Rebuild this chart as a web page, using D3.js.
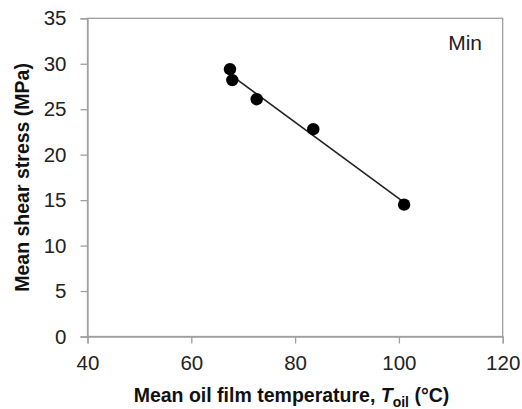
<!DOCTYPE html>
<html>
<head>
<meta charset="utf-8">
<script src="https://cdn.jsdelivr.net/npm/d3@7"></script>
<style>
  html, body { margin: 0; padding: 0; background: #fff; }
  svg { display: block; font-family: "Liberation Sans", Arial, sans-serif; }
</style>
</head>
<body>
<svg id="chart" width="522" height="409"></svg>
<script>
// Mean oil film temperature (°C) and mean shear stress (MPa) at the "Min" condition
const temperature = [67.45, 67.9, 72.6, 83.5, 101.0];
const shearStress = [29.4, 28.2, 26.1, 22.8, 14.5];
const xTicks = [40, 60, 80, 100, 120];
const yTicks = [0, 5, 10, 15, 20, 25, 30, 35];

const svg = d3.select("#chart");
const plotLeft = 87.5, plotRight = 502.7, plotTop = 18.3, plotBottom = 336.5;

const x = d3.scaleLinear().domain([40, 120]).range([plotLeft, plotRight]);
const y = d3.scaleLinear().domain([0, 35]).range([plotBottom, plotTop]);

const axisColor = "#a0a0a0";

// plot frame
svg.append("rect")
  .attr("x", plotLeft).attr("y", plotTop)
  .attr("width", plotRight - plotLeft).attr("height", plotBottom - plotTop)
  .attr("fill", "none").attr("stroke", axisColor).attr("stroke-width", 1.3);

// x axis
const gx = svg.append("g").attr("transform", `translate(0,${plotBottom})`)
  .call(d3.axisBottom(x).tickValues(xTicks).tickSize(7).tickPadding(12).tickFormat(d3.format("d")));
// y axis
const gy = svg.append("g").attr("transform", `translate(${plotLeft},0)`)
  .call(d3.axisLeft(y).tickValues(yTicks).tickSize(7).tickPadding(14).tickFormat(d3.format("d")));

[gx, gy].forEach(g => {
  g.select(".domain").attr("stroke", axisColor).attr("stroke-width", 1.3);
  g.selectAll(".tick line").attr("stroke", axisColor).attr("stroke-width", 1.3);
  g.selectAll(".tick text").attr("fill", "#222").style("font-size", "20.5px")
    .style("font-family", '"Liberation Sans", Arial, sans-serif');
});

// least-squares trend line across the measured temperature range
const mx = d3.mean(temperature), my = d3.mean(shearStress);
const sxy = d3.sum(temperature, (t, i) => (t - mx) * (shearStress[i] - my));
const sxx = d3.sum(temperature, t => (t - mx) ** 2);
const slope = sxy / sxx, intercept = my - slope * mx;
const [tMin, tMax] = d3.extent(temperature);
svg.append("line")
  .attr("x1", x(tMin)).attr("y1", y(intercept + slope * tMin))
  .attr("x2", x(tMax)).attr("y2", y(intercept + slope * tMax))
  .attr("stroke", "#222").attr("stroke-width", 1.6);

// data points
svg.append("g").selectAll("circle")
  .data(temperature.map((t, i) => [t, shearStress[i]]))
  .join("circle")
  .attr("cx", d => x(d[0])).attr("cy", d => y(d[1]))
  .attr("r", 6.2).attr("fill", "#000");

// panel label
svg.append("text").attr("x", 482).attr("y", 50).attr("text-anchor", "end")
  .attr("fill", "#222").style("font-size", "21px").text("Min");

// axis titles
svg.append("text")
  .attr("transform", `translate(29,${(plotTop + plotBottom) / 2}) rotate(-90)`)
  .attr("text-anchor", "middle")
  .style("font-size", "19.5px").style("font-weight", "bold").attr("fill", "#111")
  .text("Mean shear stress (MPa)");

const xt = svg.append("text")
  .attr("x", 291.5).attr("y", 401.5)
  .attr("text-anchor", "middle")
  .style("font-size", "19.5px").style("font-weight", "bold").attr("fill", "#111");
xt.append("tspan").text("Mean oil film temperature, ");
xt.append("tspan").style("font-style", "italic").text("T");
xt.append("tspan").attr("dy", 5).style("font-size", "14px").text("oil");
xt.append("tspan").attr("dy", -5).text(" (°C)");
</script>
</body>
</html>
